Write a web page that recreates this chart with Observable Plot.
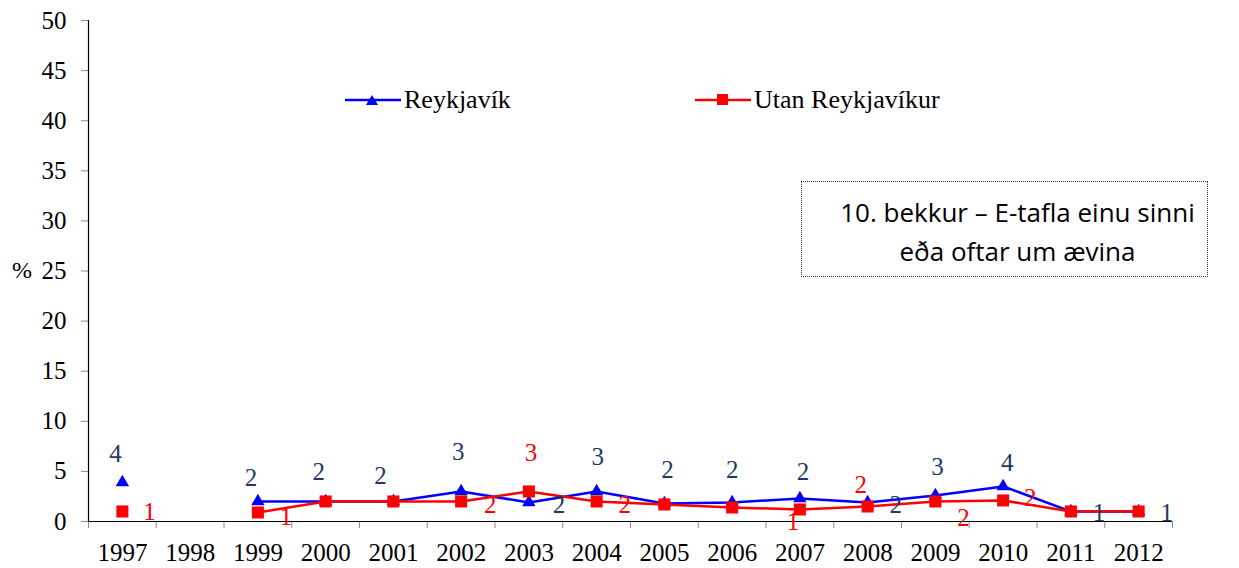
<!DOCTYPE html>
<html><head><meta charset="utf-8">
<script src="https://cdn.jsdelivr.net/npm/d3@7"></script>
<script src="https://cdn.jsdelivr.net/npm/@observablehq/plot@0.6"></script>
<style>
body{margin:0;background:#fff;}
#wrap{position:relative;width:1239px;height:568px;font-family:"Liberation Serif","Times New Roman","DejaVu Serif",serif;}
#wrap svg{position:absolute;left:0;top:0;}
#wrap svg text{font-family:"Liberation Serif","Times New Roman","DejaVu Serif",serif !important;}
.pct{position:absolute;left:12px;top:256px;font-size:24px;line-height:28px;}
.leg{position:absolute;top:86px;height:28px;display:flex;align-items:center;font-size:26px;white-space:nowrap;}
.leg svg{position:static !important;margin-right:3px;}
.box{position:absolute;left:801px;top:181px;width:407px;height:96px;border:1px dotted #333;background:#fff;
 font-family:"Open Sans","Noto Sans",sans-serif;font-size:26px;text-align:center;line-height:39px;padding-top:11px;padding-left:26px;box-sizing:border-box;}
</style></head><body>
<div id="wrap"></div>
<script>
const years = [1997,1998,1999,2000,2001,2002,2003,2004,2005,2006,2007,2008,2009,2010,2011,2012];
const reykjavik = [3.9,null,2.0,2.0,2.0,3.0,1.9,3.0,1.8,1.9,2.3,1.9,2.6,3.5,1.0,1.0];
const utan      = [1.0,null,0.9,2.0,2.0,2.0,3.0,2.0,1.7,1.4,1.2,1.5,2.0,2.1,1.0,1.0];
const yTicks = [0,5,10,15,20,25,30,35,40,45,50];
const seriesNames = ["Reykjavík","Utan Reykjavíkur"];
const boxLines = ["10. bekkur – E-tafla einu sinni","eða oftar um ævina"];

// label placement offsets (px) per year; null = label hidden
const reykLabelOffset = [[-7,-28],null,[-7,-23],[-7,-29],[-13,-25],[-3,-39],[30,3],[1,-34],[3,-33],[0,-32],[3,-26],[28,3],[2,-28],[4,-23],[28,2],[28,2]];
const utanLabelOffset = [[27,1],null,[28,5],null,null,[29,4],[2,-38],[28,4],null,null,[-7,13],[-7,-21],[28,17],[27,-2],null,null];

const BLUE="#0000FF", RED="#FF0000", NAVY="#1F3864";
const SERIF="Liberation Serif";
const toRows = vals => years.map((y,i)=>({year:y, value: vals[i]==null?NaN:vals[i]}));
const reykRows = toRows(reykjavik), utanRows = toRows(utan);
const bounds = years.map(y=>y-0.5).concat([years[years.length-1]+0.5]);

function labelMarks(rows, offsets, color){
  const out=[];
  rows.forEach((r,i)=>{
    const o=offsets[i];
    if(!o || isNaN(r.value)) return;
    out.push(Plot.text([r],{x:"year",y:"value",text:d=>String(Math.round(d.value)),dx:o[0],dy:o[1],fill:color,fontSize:25,fontFamily:SERIF}));
  });
  return out;
}

const chart = Plot.plot({
  width:1239, height:568,
  marginLeft:88, marginRight:67, marginTop:20, marginBottom:47,
  style:{fontFamily:SERIF, fontSize:"24px", color:"#000", background:"transparent", overflow:"visible"},
  x:{type:"linear", domain:[bounds[0], bounds[bounds.length-1]]},
  y:{domain:[0,50]},
  marks:[
    Plot.axisY({ticks:yTicks, tickSize:7, tickPadding:15, stroke:"#8c8c8c", fill:"#000", label:null, fontSize:25, fontFamily:SERIF}),
    Plot.axisX({ticks:bounds, tickSize:7, tickFormat:()=>"", stroke:"#8c8c8c", label:null}),
    Plot.axisX({ticks:years, tickSize:0, tickPadding:22, tickFormat:d=>String(d), fill:"#000", label:null, fontSize:25, fontFamily:SERIF}),
    Plot.ruleX([bounds[0]],{y1:0,y2:50,stroke:"#000",strokeWidth:1.2}),
    Plot.ruleY([0],{stroke:"#000",strokeWidth:1.2}),
    Plot.line(reykRows,{x:"year",y:"value",stroke:BLUE,strokeWidth:2.5}),
    Plot.dot(reykRows,{x:"year",y:"value",symbol:"triangle",r:5,fill:BLUE,stroke:null}),
    Plot.line(utanRows,{x:"year",y:"value",stroke:RED,strokeWidth:2.5}),
    Plot.dot(utanRows,{x:"year",y:"value",symbol:"square",r:6.8,fill:RED,stroke:null}),
    ...labelMarks(reykRows, reykLabelOffset, NAVY),
    ...labelMarks(utanRows, utanLabelOffset, RED)
  ]
});
const wrap=document.getElementById("wrap");
wrap.appendChild(chart);

const pct=document.createElement("div"); pct.className="pct"; pct.textContent="%"; wrap.appendChild(pct);

function legendItem(left, name, color, sym){
  const d=document.createElement("div"); d.className="leg"; d.style.left=left+"px";
  const marker = sym==="tri"
    ? `<path d="M27,5 L33,15 L21,15 Z" fill="${color}"/>`
    : `<rect x="22" y="4" width="11" height="11" fill="${color}"/>`;
  d.innerHTML=`<svg width="56" height="20" viewBox="0 0 56 20"><line x1="0" y1="10" x2="56" y2="10" stroke="${color}" stroke-width="2.5"/>${marker}</svg><span></span>`;
  d.querySelector("span").textContent=name;
  wrap.appendChild(d);
}
legendItem(345, seriesNames[0], BLUE, "tri");
legendItem(695, seriesNames[1], RED, "sq");

const box=document.createElement("div"); box.className="box";
boxLines.forEach(t=>{const l=document.createElement("div"); l.textContent=t; box.appendChild(l);});
wrap.appendChild(box);
</script>
</body></html>
